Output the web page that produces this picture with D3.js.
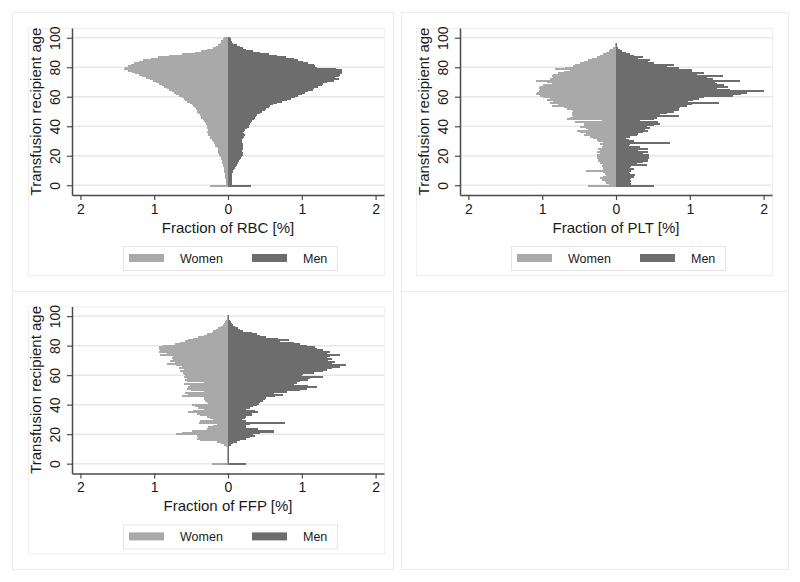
<!DOCTYPE html>
<html>
<head>
<meta charset="utf-8">
<script src="https://cdn.jsdelivr.net/npm/d3@7"></script>
<style>
  html, body { margin: 0; padding: 0; background: #ffffff; }
  svg { display: block; font-family: "Liberation Sans", Arial, sans-serif; }
</style>
</head>
<body>
<svg id="chart" width="800" height="582"></svg>
<script>
// ---- DATA (index = recipient age 0..100) ----
const ages = d3.range(0, 101);
const xTicks = [-2, -1, 0, 1, 2];
const yTicks = [0, 20, 40, 60, 80, 100];
const seriesNames = ["Women", "Men"];

const rbcWomen = [0.25,0.03,0.03,0.03,0.03,0.035,0.04,0.04,0.045,0.05,
  0.05,0.055,0.06,0.065,0.07,0.075,0.08,0.085,0.09,0.10,
  0.11,0.12,0.13,0.13,0.14,0.14,0.15,0.17,0.18,0.19,
  0.20,0.22,0.24,0.25,0.27,0.27,0.28,0.27,0.27,0.28,
  0.28,0.29,0.30,0.31,0.33,0.34,0.36,0.37,0.38,0.40,
  0.42,0.42,0.43,0.45,0.47,0.49,0.52,0.55,0.58,0.60,
  0.63,0.67,0.70,0.73,0.76,0.80,0.83,0.87,0.90,0.93,
  0.97,1.01,1.06,1.11,1.17,1.21,1.26,1.30,1.35,1.41,
  1.40,1.36,1.31,1.27,1.21,1.15,1.05,0.95,0.80,0.62,
  0.45,0.36,0.29,0.21,0.16,0.13,0.11,0.10,0.09,0.07,0.06];
const rbcMen = [0.31,0.05,0.05,0.05,0.05,0.055,0.06,0.06,0.06,0.065,
  0.07,0.085,0.10,0.11,0.12,0.13,0.14,0.15,0.16,0.18,
  0.19,0.20,0.20,0.19,0.19,0.20,0.21,0.20,0.20,0.19,
  0.19,0.19,0.20,0.22,0.23,0.22,0.21,0.22,0.23,0.26,
  0.28,0.29,0.30,0.31,0.32,0.35,0.37,0.38,0.39,0.43,
  0.46,0.50,0.52,0.55,0.57,0.61,0.66,0.73,0.80,0.86,
  0.91,0.95,1.00,1.04,1.09,1.15,1.16,1.22,1.27,1.29,
  1.34,1.43,1.50,1.45,1.50,1.52,1.54,1.50,1.54,1.47,
  1.20,1.18,1.16,1.09,1.02,0.95,0.89,0.78,0.66,0.55,
  0.43,0.34,0.25,0.20,0.16,0.12,0.07,0.06,0.04,0.04,0.03];

const pltWomen = [0.38,0.10,0.13,0.15,0.19,0.22,0.17,0.13,0.15,0.17,
  0.41,0.17,0.18,0.19,0.17,0.22,0.19,0.24,0.22,0.26,
  0.19,0.26,0.22,0.26,0.22,0.24,0.19,0.17,0.22,0.17,
  0.24,0.26,0.31,0.35,0.44,0.40,0.49,0.53,0.38,0.40,
  0.49,0.44,0.44,0.56,0.19,0.67,0.62,0.58,0.60,0.60,
  0.58,0.60,0.67,0.71,0.87,0.78,0.90,0.85,0.94,0.90,
  0.99,1.03,1.08,1.07,1.05,1.03,1.05,1.03,0.99,0.87,
  0.94,1.08,0.90,0.85,0.87,0.85,0.78,0.71,0.62,0.83,
  0.69,0.58,0.56,0.49,0.44,0.38,0.33,0.26,0.22,0.17,
  0.13,0.10,0.08,0.04,0.02,0.01,0.01,0.005,0.005,0.005,0.005];
const pltMen = [0.52,0.21,0.19,0.20,0.19,0.21,0.24,0.26,0.19,0.17,
  0.21,0.24,0.19,0.21,0.42,0.28,0.37,0.44,0.33,0.45,
  0.42,0.45,0.37,0.44,0.30,0.44,0.33,0.17,0.19,0.73,
  0.24,0.17,0.14,0.19,0.28,0.30,0.37,0.44,0.39,0.46,
  0.42,0.51,0.60,0.57,0.33,0.51,0.55,0.85,0.60,0.69,
  0.78,0.86,0.85,0.87,0.96,1.03,1.40,0.98,1.05,1.12,
  1.19,1.59,1.70,1.77,2.00,1.55,1.37,1.52,1.46,1.37,
  1.34,1.68,1.32,1.23,1.45,1.10,1.19,0.94,1.03,0.78,
  0.85,0.69,0.78,0.51,0.44,0.46,0.30,0.37,0.24,0.19,
  0.14,0.08,0.05,0.03,0.02,0.01,0.01,0.005,0.005,0.005,0.005];

const ffpWomen = [0.22,0.01,0.01,0.01,0.01,0.01,0.01,0.01,0.01,0.01,
  0.01,0.02,0.03,0.05,0.09,0.15,0.38,0.42,0.40,0.42,
  0.70,0.63,0.49,0.22,0.29,0.27,0.20,0.15,0.39,0.38,
  0.20,0.24,0.29,0.38,0.42,0.54,0.48,0.33,0.40,0.45,
  0.49,0.27,0.29,0.31,0.33,0.33,0.63,0.54,0.58,0.33,
  0.50,0.56,0.54,0.51,0.60,0.33,0.55,0.58,0.56,0.60,
  0.58,0.60,0.61,0.65,0.60,0.67,0.63,0.70,0.83,0.72,
  0.79,0.74,0.76,0.74,0.92,0.83,0.94,0.92,0.93,0.94,
  0.88,0.72,0.65,0.58,0.54,0.47,0.40,0.33,0.29,0.22,
  0.20,0.16,0.13,0.10,0.07,0.05,0.04,0.03,0.02,0.01,0.01];
const ffpMen = [0.24,0.01,0.01,0.01,0.01,0.01,0.01,0.01,0.01,0.01,
  0.01,0.01,0.02,0.04,0.07,0.12,0.16,0.25,0.30,0.37,
  0.34,0.43,0.62,0.19,0.41,0.25,0.25,0.30,0.77,0.25,
  0.19,0.23,0.25,0.32,0.33,0.41,0.37,0.25,0.30,0.34,
  0.39,0.42,0.43,0.48,0.50,0.52,0.64,0.75,0.62,0.80,
  0.98,1.07,1.20,1.09,0.89,0.93,0.98,1.09,1.11,1.29,
  1.00,1.02,1.16,1.29,1.34,1.41,1.52,1.60,1.41,1.45,
  1.36,1.41,1.34,1.38,1.52,1.34,1.38,1.29,1.20,1.18,
  1.07,0.98,0.89,0.70,0.82,0.68,0.52,0.43,0.39,0.32,
  0.21,0.16,0.14,0.10,0.07,0.05,0.04,0.03,0.015,0.01,0.01];

const panelTitles = ["Fraction of RBC [%]", "Fraction of PLT [%]", "Fraction of FFP [%]"];

// ---- STYLE ----
const colWomen = "#a9a9a9";
const colMen = "#6d6d6d";
const textCol = "#1a1a1a";
const axisCol = "#4a4a4a";
const gridCol = "#e8e8e8";
const frameCol = "#ebebeb";
const fontFam = '"Liberation Sans", Arial, sans-serif';

const svg = d3.select("#chart");
svg.append("rect").attr("width", 800).attr("height", 582).attr("fill", "#fff");

// cell frames (combined graph layout)
const cells = [[12, 12, 393, 291], [401, 12, 788, 291], [12, 291, 393, 569], [401, 291, 788, 569]];
cells.forEach(c => {
  svg.append("rect").attr("x", c[0] + 0.5).attr("y", c[1] + 0.5)
    .attr("width", c[2] - c[0]).attr("height", c[3] - c[1])
    .attr("fill", "none").attr("stroke", frameCol).attr("stroke-width", 1);
});

const panels = [
  { title: panelTitles[0], women: rbcWomen, men: rbcMen, dx: 0, dy: 0 },
  { title: panelTitles[1], women: pltWomen, men: pltMen, dx: 388, dy: 0 },
  { title: panelTitles[2], women: ffpWomen, men: ffpMen, dx: 0, dy: 278.4 }
];

panels.forEach(p => {
  const left = 72 + p.dx, right = 384 + p.dx, top = 28 + p.dy, bottom = 195 + p.dy;
  const g = svg.append("g");

  // inner graph-region box
  g.append("rect").attr("x", 28.5 + p.dx).attr("y", 28.5 + p.dy)
    .attr("width", 356).attr("height", 247)
    .attr("fill", "none").attr("stroke", "#efefef").attr("stroke-width", 1);

  const x = d3.scaleLinear().domain([-2.114, 2.114]).range([left, right]);
  const y = d3.scaleLinear().domain([-6.6, 106.6]).range([bottom, top]);
  const bh = Math.abs(y(0.5) - y(-0.5));

  // gridlines
  g.append("g").selectAll("line").data(yTicks).join("line")
    .attr("x1", left).attr("x2", right)
    .attr("y1", d => y(d)).attr("y2", d => y(d))
    .attr("stroke", gridCol).attr("stroke-width", 1.5);

  // bars (slight overlap + crisp edges to avoid anti-aliasing seams)
  g.append("g").attr("shape-rendering", "crispEdges").selectAll("rect").data(ages).join("rect")
    .attr("x", a => x(-p.women[a])).attr("width", a => x(0) - x(-p.women[a]))
    .attr("y", a => y(a + 0.5)).attr("height", bh + 0.6)
    .attr("fill", colWomen);
  g.append("g").attr("shape-rendering", "crispEdges").selectAll("rect").data(ages).join("rect")
    .attr("x", x(0)).attr("width", a => x(p.men[a]) - x(0))
    .attr("y", a => y(a + 0.5)).attr("height", bh + 0.6)
    .attr("fill", colMen);

  // y axis
  const ya = g.append("g").attr("transform", `translate(${left},0)`)
    .call(d3.axisLeft(y).tickValues(yTicks).tickSize(5).tickSizeOuter(0));
  ya.select(".domain").attr("stroke", axisCol).attr("stroke-width", 1.5);
  ya.selectAll(".tick line").attr("stroke", axisCol).attr("stroke-width", 1.2);
  ya.selectAll(".tick text")
    .attr("transform", "rotate(-90)").attr("text-anchor", "middle")
    .attr("x", 0).attr("y", -12).attr("dy", 0)
    .attr("fill", textCol).style("font-size", "14px")
    .style("font-family", fontFam);

  // x axis
  const xa = g.append("g").attr("transform", `translate(0,${bottom})`)
    .call(d3.axisBottom(x).tickValues(xTicks).tickFormat(d => Math.abs(d)).tickSize(5).tickPadding(4).tickSizeOuter(0));
  xa.select(".domain").attr("stroke", axisCol).attr("stroke-width", 1.5);
  xa.selectAll(".tick line").attr("stroke", axisCol).attr("stroke-width", 1.2);
  xa.selectAll(".tick text").attr("fill", textCol).style("font-size", "14px")
    .style("font-family", fontFam);

  // axis titles
  g.append("text").attr("transform", `translate(${41 + p.dx},${(top + bottom) / 2}) rotate(-90)`)
    .attr("text-anchor", "middle").attr("fill", textCol).style("font-size", "15px")
    .text("Transfusion recipient age");
  g.append("text").attr("x", x(0)).attr("y", 233 + p.dy)
    .attr("text-anchor", "middle").attr("fill", textCol).style("font-size", "15px")
    .text(p.title);

  // legend
  const lg = g.append("g").attr("transform", `translate(${123 + p.dx},${246 + p.dy})`);
  lg.append("rect").attr("x", 0.5).attr("y", 0.5).attr("width", 214).attr("height", 24)
    .attr("fill", "#fff").attr("stroke", "#e4e4e4");
  const items = [{ name: seriesNames[0], col: colWomen, sx: 6, tx: 57 }, { name: seriesNames[1], col: colMen, sx: 129, tx: 180 }];
  items.forEach(it => {
    lg.append("rect").attr("x", it.sx).attr("y", 8).attr("width", 35).attr("height", 8).attr("fill", it.col);
    lg.append("text").attr("x", it.tx).attr("y", 16.5).attr("fill", textCol)
      .style("font-size", "12.5px").text(it.name);
  });
});
</script>
</body>
</html>
